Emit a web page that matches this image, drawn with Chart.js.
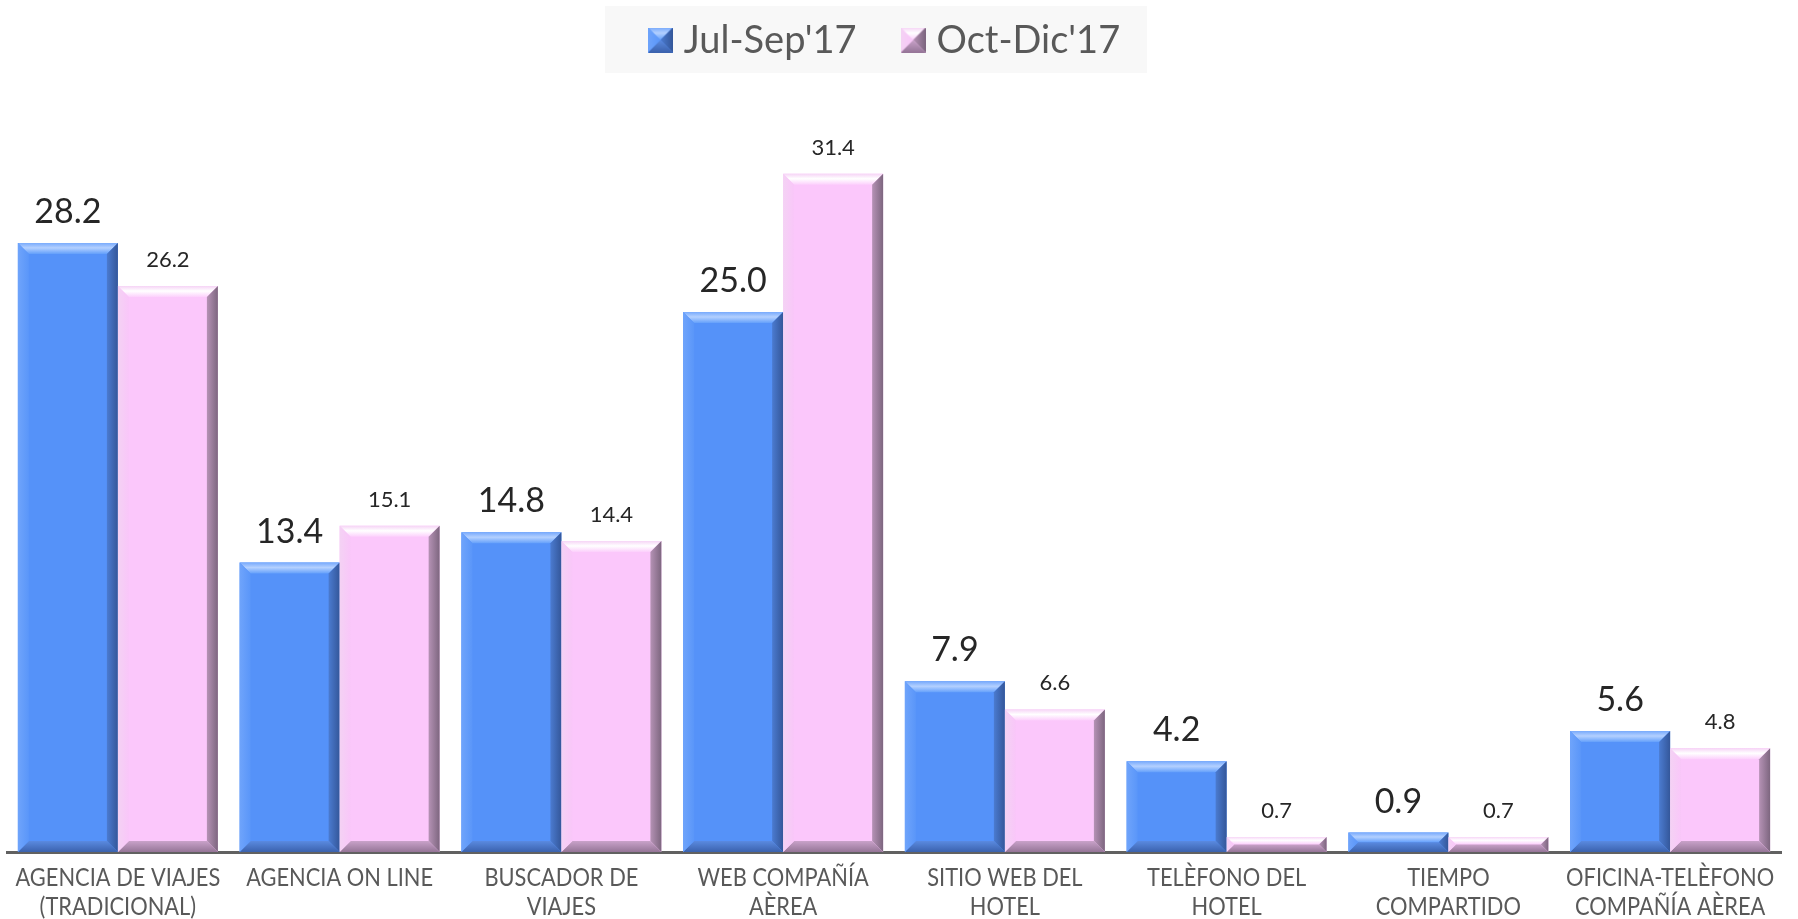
<!DOCTYPE html>
<html><head><meta charset="utf-8">
<script src="https://cdn.jsdelivr.net/npm/chart.js@4.4.1/dist/chart.umd.min.js"></script>
<style>html,body{margin:0;padding:0;background:#fff;overflow:hidden}</style>
</head><body>
<canvas id="c" width="1798" height="919"></canvas>
<script>
// ---- data ----
const categories = [
  ["AGENCIA DE VIAJES", "(TRADICIONAL)"],
  ["AGENCIA ON LINE"],
  ["BUSCADOR DE", "VIAJES"],
  ["WEB COMPAÑÍA", "AÈREA"],
  ["SITIO WEB DEL", "HOTEL"],
  ["TELÈFONO DEL", "HOTEL"],
  ["TIEMPO", "COMPARTIDO"],
  ["OFICINA-TELÈFONO", "COMPAÑÍA AÈREA"]
];
const seriesNames = ["Jul-Sep'17", "Oct-Dic'17"];
const julSep17 = [28.2, 13.4, 14.8, 25.0, 7.9, 4.2, 0.9, 5.6];
const octDic17 = [26.2, 15.1, 14.4, 31.4, 6.6, 0.7, 0.7, 4.8];

// ---- styles ----
const STY = [
  { face: '#5592f9', top: ['#78aafc', '#b3d0ff', '#64a0fb'], right: ['#34579a', '#4b7bd0'], bottom: ['#5a8ae0', '#3b62ad'], left: ['#6fa4fb', '#5a96f9'], labelSize: 34 },
  { face: '#fbc7fb', top: ['#f6d4f6', '#ffffff', '#fccffc'], right: ['#7d667f', '#b592b5'], bottom: ['#c9a2c9', '#957597'], left: ['#f4d2f4', '#f9c6f9'], labelSize: 22 }
];
const FONT_NUM = 'Lato, "Open Sans", sans-serif';
const FONT_TXT = 'Lato, "Open Sans", sans-serif';

function poly(ctx, pts, fill) {
  ctx.beginPath();
  ctx.moveTo(pts[0][0], pts[0][1]);
  for (let i = 1; i < pts.length; i++) ctx.lineTo(pts[i][0], pts[i][1]);
  ctx.closePath();
  ctx.fillStyle = fill;
  ctx.fill();
}
function bevel(ctx, l, t, r, b, dmax, s) {
  const d = Math.min(dmax, (b - t) / 2, (r - l) / 2);
  let g = ctx.createLinearGradient(0, t, 0, t + d);
  g.addColorStop(0, s.top[0]); g.addColorStop(0.45, s.top[1]); g.addColorStop(1, s.top[2]);
  poly(ctx, [[l, t], [r, t], [r - d, t + d], [l + d, t + d]], g);
  g = ctx.createLinearGradient(r, 0, r - d, 0);
  g.addColorStop(0, s.right[0]); g.addColorStop(1, s.right[1]);
  poly(ctx, [[r, t], [r, b], [r - d, b - d], [r - d, t + d]], g);
  g = ctx.createLinearGradient(0, b - d, 0, b);
  g.addColorStop(0, s.bottom[0]); g.addColorStop(1, s.bottom[1]);
  poly(ctx, [[l, b], [r, b], [r - d, b - d], [l + d, b - d]], g);
  g = ctx.createLinearGradient(l, 0, l + d, 0);
  g.addColorStop(0, s.left[0]); g.addColorStop(1, s.left[1]);
  poly(ctx, [[l, t], [l + d, t + d], [l + d, b - d], [l, b]], g);
}
function markerCanvas(s) {
  const c = document.createElement('canvas');
  c.width = 25; c.height = 25;
  const x = c.getContext('2d');
  x.fillStyle = s.face; x.fillRect(0, 0, 25, 25);
  bevel(x, 0, 0, 25, 25, 12.5, s);
  return c;
}

const bevelPlugin = {
  id: 'bevel',
  afterDatasetsDraw(chart) {
    const ctx = chart.ctx;
    chart.data.datasets.forEach((ds, i) => {
      const meta = chart.getDatasetMeta(i);
      meta.data.forEach((bar) => {
        const l = bar.x - bar.width / 2, r = bar.x + bar.width / 2;
        const t = Math.min(bar.y, bar.base), b = Math.max(bar.y, bar.base);
        ctx.save();
        bevel(ctx, l, t, r, b, 11, STY[i]);
        ctx.restore();
      });
    });
  }
};

const labelPlugin = {
  id: 'valueLabels',
  afterDatasetsDraw(chart) {
    const ctx = chart.ctx;
    chart.data.datasets.forEach((ds, i) => {
      const meta = chart.getDatasetMeta(i);
      meta.data.forEach((bar, j) => {
        ctx.save();
        ctx.font = STY[i].labelSize + 'px ' + FONT_NUM;
        ctx.fillStyle = '#262626';
        ctx.textAlign = 'center';
        ctx.textBaseline = 'alphabetic';
        ctx.fillText(ds.data[j].toFixed(1), bar.x, bar.y - (i === 0 ? 20 : 19));
        ctx.restore();
      });
    });
  }
};

// category labels drawn under the x scale, slightly condensed like the original
const tickPlugin = {
  id: 'condensedTicks',
  afterDraw(chart) {
    const ctx = chart.ctx;
    const xs = chart.scales.x;
    ctx.save();
    ctx.font = '25px ' + FONT_TXT;
    const squeeze = 187 / ctx.measureText('AGENCIA ON LINE').width;
    ctx.fillStyle = '#595959';
    ctx.textAlign = 'center';
    ctx.textBaseline = 'alphabetic';
    chart.data.labels.forEach((lines, i) => {
      const x = xs.getPixelForValue(i);
      lines.forEach((ln, k) => {
        ctx.save();
        ctx.translate(x, xs.top + 34 + k * 29);
        ctx.scale(squeeze, 1);
        ctx.fillText(ln, 0, 0);
        ctx.restore();
      });
    });
    ctx.restore();
  }
};

const legendPlugin = {
  id: 'boxLegend',
  afterDraw(chart) {
    const ctx = chart.ctx;
    ctx.save();
    ctx.font = '38px ' + FONT_TXT;
    const items = chart.data.datasets.map((ds, i) => ({ text: ds.label, w: ctx.measureText(ds.label).width, img: markerCanvas(STY[i]) }));
    const gap = 11, between = 44, mk = 25;
    let total = 0;
    items.forEach((it, i) => { total += mk + gap + it.w + (i ? between : 0); });
    const cx = 884, boxL = 605, boxR = 1147, boxT = 6, boxB = 73;
    ctx.fillStyle = '#f8f8f8';
    ctx.fillRect(boxL, boxT, boxR - boxL, boxB - boxT);
    let x = cx - total / 2;
    const cy = 40;
    items.forEach((it, i) => {
      if (i) x += between;
      ctx.drawImage(it.img, x, cy - 12.5);
      x += mk + gap;
      ctx.fillStyle = '#595959';
      ctx.textBaseline = 'middle';
      ctx.textAlign = 'left';
      ctx.fillText(it.text, x, cy + 1);
      x += it.w;
    });
    ctx.restore();
  }
};

new Chart(document.getElementById('c'), {
  type: 'bar',
  data: {
    labels: categories,
    datasets: [
      { label: seriesNames[0], data: julSep17, backgroundColor: STY[0].face, borderWidth: 0 },
      { label: seriesNames[1], data: octDic17, backgroundColor: STY[1].face, borderWidth: 0 }
    ]
  },
  options: {
    responsive: false,
    animation: false,
    devicePixelRatio: 1,
    layout: { padding: { left: 7, right: 17, top: 96, bottom: 67 } },
    plugins: { legend: { display: false }, tooltip: { enabled: false } },
    datasets: { bar: { categoryPercentage: 0.902, barPercentage: 1.0 } },
    scales: {
      x: {
        grid: { display: false, drawTicks: false },
        border: { display: true, color: '#616161', width: 3 },
        ticks: { display: false }
      },
      y: { display: false, min: 0, max: 35 }
    }
  },
  plugins: [bevelPlugin, labelPlugin, tickPlugin, legendPlugin]
});
</script>
</body></html>
